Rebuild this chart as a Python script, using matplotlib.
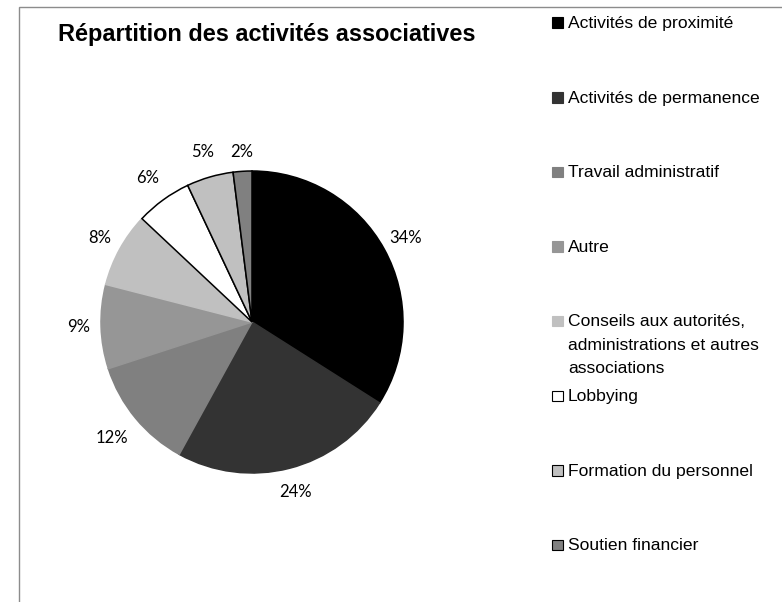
import numpy as np
import matplotlib
matplotlib.use('Agg')
import matplotlib.pyplot as plt
from matplotlib.patches import Rectangle

categories = ['Activités de proximité', 'Activités de permanence', 'Travail administratif', 'Autre',
              'Conseils aux autorités,\nadministrations et autres\nassociations',
              'Lobbying', 'Formation du personnel', 'Soutien financier']
shares = [34, 24, 12, 9, 8, 6, 5, 2]
colors = ['#000000', '#333333', '#808080', '#969696', '#c0c0c0', '#ffffff', '#c0c0c0', '#808080']
outlined = [False, False, False, False, False, True, True, True]
# distance of each percent label from the centre (in radius units)
label_dist = [1.16, 1.16, 1.2, 1.15, 1.15, 1.18, 1.17, 1.13]

W, H = 782, 602
fig = plt.figure(figsize=(W / 100, H / 100), dpi=100)

# chart frame (only top and left visible)
fig.add_artist(Rectangle((19 / W, -0.5), 2, 1.5 - 7 / H, transform=fig.transFigure,
                         facecolor='none', edgecolor='#8c8c8c', linewidth=1))

cx, cy, R = 252, 322, 151
ax = fig.add_axes([(cx - R) / W, (H - cy - R) / H, 2 * R / W, 2 * R / H])
wedges, _ = ax.pie(shares, colors=colors, startangle=90, counterclock=False, radius=1,
                   wedgeprops=dict(linewidth=1.1))
for w, o, c in zip(wedges, outlined, colors):
    w.set_edgecolor('black' if o else c)
ax.set_xlim(-1, 1)
ax.set_ylim(-1, 1)
ax.set_aspect('equal')
ax.axis('off')

for w, s, d in zip(wedges, shares, label_dist):
    ang = np.deg2rad((w.theta1 + w.theta2) / 2)
    ax.text(d * np.cos(ang), d * np.sin(ang), f'{s}%', ha='center', va='center',
            fontsize=12, family='Lato', clip_on=False)

fig.text(58 / W, 1 - 35 / H, 'Répartition des activités associatives', ha='left', va='center',
         fontsize=16.9, fontweight='bold', family='Liberation Sans')

# legend, evenly spaced entries, marker on first line
for i, (lab, c, o) in enumerate(zip(categories, colors, outlined)):
    y = 23 + i * 74.6
    fig.add_artist(Rectangle((552 / W, 1 - (y + 5) / H), 10.5 / W, 10.5 / H, transform=fig.transFigure,
                             facecolor=c, edgecolor='black' if o else c, linewidth=0.8))
    for k, line in enumerate(lab.split('\n')):
        fig.text(568 / W, 1 - (y + 5 + k * 23.5) / H, line, ha='left', va='baseline',
                 fontsize=12.6, family='Liberation Sans')

fig.savefig('out.png', dpi=100)
